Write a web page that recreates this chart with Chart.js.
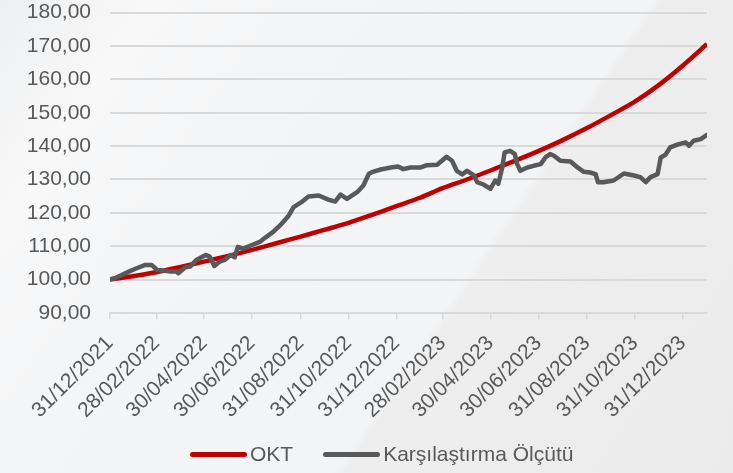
<!DOCTYPE html>
<html>
<head>
<meta charset="utf-8">
<script src="https://cdn.jsdelivr.net/npm/chart.js@4.4.1/dist/chart.umd.min.js"></script>
<style>
    html, body { margin: 0; padding: 0; }
    body {
        width: 733px;
        height: 473px;
        overflow: hidden;
        background: linear-gradient(124deg, #eeeff0 0%, #f8f8f9 14%, #f4f5f6 30%, #f3f4f5 62%, #eeeeef 63%, #ebebec 100%);
        font-family: Arial, "Liberation Sans", sans-serif;
    }
    #wrap { position: relative; width: 733px; height: 473px; overflow: hidden; }
    #chart-box { position: absolute; left: 0; top: -19px; width: 733px; height: 492px; }
    #legend {
        position: absolute;
        left: 190px;
        top: 442px;
        display: flex;
        align-items: center;
        font-size: 21px;
        color: #595959;
        white-space: nowrap;
    }
    #legend .item { display: flex; align-items: center; margin-right: 30px; }
    #legend .swatch { width: 57px; height: 5px; border-radius: 3px; margin-right: 3px; }
</style>
</head>
<body>
<div id="wrap">
    <div id="chart-box"><canvas id="perf-chart"></canvas></div>
    <div id="legend"></div>
</div>
<script>
// OKT (red line) - read at month ends
const oktDates = ['2021-12-31', '2022-01-31', '2022-02-28', '2022-03-31', '2022-04-30', '2022-05-31',
    '2022-06-30', '2022-07-31', '2022-08-31', '2022-09-30', '2022-10-31', '2022-11-30', '2022-12-31',
    '2023-01-31', '2023-02-28', '2023-03-31', '2023-04-30', '2023-05-31', '2023-06-30', '2023-07-31',
    '2023-08-31', '2023-09-30', '2023-10-31', '2023-11-30', '2023-12-31', '2024-01-31'];
const oktValues = [100.0, 101.1, 102.2, 103.8, 105.4, 107.1, 108.9, 110.9, 112.9, 114.9, 117.0, 119.4, 122.0,
    124.6, 127.4, 130.0, 132.7, 135.6, 138.5, 141.8, 145.4, 149.2, 153.3, 158.2, 164.1, 170.6];

// Karşılaştırma Ölçütü (grey line)
const benchDates = ['2021-12-31', '2022-01-06', '2022-01-15', '2022-01-24', '2022-02-03', '2022-02-14',
    '2022-02-22', '2022-03-01', '2022-03-09', '2022-03-18', '2022-03-26', '2022-03-28', '2022-04-06',
    '2022-04-12', '2022-04-20', '2022-05-02', '2022-05-07', '2022-05-13', '2022-05-20', '2022-05-26',
    '2022-06-03', '2022-06-08', '2022-06-12', '2022-06-19', '2022-06-29', '2022-07-10', '2022-07-17',
    '2022-07-27', '2022-08-05', '2022-08-15', '2022-08-22', '2022-09-01', '2022-09-10', '2022-09-23',
    '2022-10-06', '2022-10-14', '2022-10-21', '2022-10-29', '2022-11-11', '2022-11-19', '2022-11-26',
    '2022-12-01', '2022-12-11', '2022-12-24', '2023-01-02', '2023-01-09', '2023-01-18', '2023-01-31',
    '2023-02-08', '2023-02-21', '2023-02-27', '2023-03-05', '2023-03-12', '2023-03-18', '2023-03-25',
    '2023-03-31', '2023-04-09', '2023-04-13', '2023-04-21', '2023-04-30', '2023-05-06', '2023-05-10',
    '2023-05-15', '2023-05-18', '2023-05-25', '2023-05-31', '2023-06-03', '2023-06-07', '2023-06-16',
    '2023-06-24', '2023-07-03', '2023-07-09', '2023-07-15', '2023-07-20', '2023-07-28', '2023-08-10',
    '2023-08-19', '2023-08-27', '2023-09-04', '2023-09-11', '2023-09-14', '2023-09-21', '2023-10-04',
    '2023-10-17', '2023-10-30', '2023-11-07', '2023-11-14', '2023-11-20', '2023-11-29', '2023-12-03',
    '2023-12-09', '2023-12-15', '2023-12-26', '2024-01-04', '2024-01-08', '2024-01-14', '2024-01-23',
    '2024-01-31'];
const benchValues = [100.1, 100.4, 101.4, 102.4, 103.4, 104.4,
    104.4, 102.9, 102.7, 102.4, 102.4, 101.9, 103.7,
    103.9, 105.9, 107.4, 106.9, 104.1, 105.4, 105.9,
    107.4, 106.7, 109.8, 109.3, 110.3, 111.3, 112.6,
    114.3, 116.3, 118.9, 121.7, 123.2, 124.9, 125.2,
    123.9, 123.4, 125.5, 124.2, 126.2, 128.2, 131.7,
    132.3, 133.0, 133.6, 133.9, 133.1, 133.6, 133.6,
    134.3, 134.4, 135.6, 136.8, 135.6, 132.6, 131.5,
    132.6, 131.2, 129.2, 128.5, 127.2, 129.7, 128.7,
    133.6, 138.1, 138.6, 137.6, 134.6, 132.6, 133.6,
    134.1, 134.6, 136.6, 137.6, 137.1, 135.6, 135.4,
    133.6, 132.3, 132.1, 131.6, 129.2, 129.2, 129.7,
    131.8, 131.2, 130.7, 129.2, 130.7, 131.6, 136.6,
    137.4, 139.6, 140.6, 141.1, 140.1, 141.6, 142.1,
    143.4];

const tickLabels = ['31/12/2021', '28/02/2022', '30/04/2022', '30/06/2022', '31/08/2022', '31/10/2022',
    '31/12/2022', '28/02/2023', '30/04/2023', '30/06/2023', '31/08/2023', '31/10/2023', '31/12/2023'];
const axisEnd = '2024-01-31';

// days since the first date, so the x axis is spaced by calendar days
const startMs = Date.UTC(2021, 11, 31);
function isoToDay(s) {
    return Math.round((Date.parse(s) - startMs) / 86400000);
}
function labelToDay(s) {
    const [d, m, y] = s.split('/').map(Number);
    return Math.round((Date.UTC(y, m - 1, d) - startMs) / 86400000);
}
const tickDays = tickLabels.map(labelToDay);

const oktPoints = oktDates.map((d, i) => ({ x: isoToDay(d), y: oktValues[i] }));
const benchPoints = benchDates.map((d, i) => ({ x: isoToDay(d), y: benchValues[i] }));

const textColor = '#595959';
const gridColor = '#d9d9d9';

const datasets = [{
    label: 'OKT',
    data: oktPoints,
    borderColor: '#c00000',
    backgroundColor: '#c00000',
    borderWidth: 4.5,
    pointRadius: 0,
    tension: 0.3,
    order: 2
}, {
    label: 'Karşılaştırma Ölçütü',
    data: benchPoints,
    borderColor: '#595959',
    backgroundColor: '#595959',
    borderWidth: 4.5,
    pointRadius: 0,
    tension: 0,
    borderJoinStyle: 'round',
    borderCapStyle: 'round',
    order: 1
}];

const ctx = document.getElementById('perf-chart');
new Chart(ctx, {
    type: 'line',
    data: { datasets: datasets },
    options: {
        responsive: true,
        maintainAspectRatio: false,
        animation: false,
        layout: { padding: { left: 0, right: 26, top: 0, bottom: 0 } },
        plugins: {
            legend: { display: false },
            tooltip: { enabled: false }
        },
        scales: {
            x: {
                type: 'linear',
                min: 0,
                max: isoToDay(axisEnd),
                afterBuildTicks: axis => {
                    axis.ticks = tickDays.map(v => ({ value: v }));
                },
                afterFit: axis => { axis.height = 160; },
                grid: {
                    drawOnChartArea: false,
                    color: gridColor,
                    lineWidth: 1.5,
                    tickLength: 6
                },
                border: { display: true, color: gridColor, width: 2 },
                ticks: {
                    autoSkip: false,
                    minRotation: 45,
                    maxRotation: 45,
                    padding: 12,
                    color: textColor,
                    font: { family: 'Arial, "Liberation Sans", sans-serif', size: 21 },
                    callback: value => tickLabels[tickDays.indexOf(value)]
                }
            },
            y: {
                min: 90,
                max: 180,
                afterFit: axis => { axis.width = 110; },
                grid: { color: gridColor, lineWidth: 2, drawTicks: false },
                border: { display: false },
                ticks: {
                    stepSize: 10,
                    padding: 19,
                    color: textColor,
                    font: { family: 'Arial, "Liberation Sans", sans-serif', size: 21 },
                    callback: value => value.toFixed(2).replace('.', ',')
                }
            }
        }
    }
});

// legend drawn as html under the chart
const legendEl = document.getElementById('legend');
datasets.forEach(ds => {
    const item = document.createElement('div');
    item.className = 'item';
    const swatch = document.createElement('span');
    swatch.className = 'swatch';
    swatch.style.background = ds.borderColor;
    const text = document.createElement('span');
    text.textContent = ds.label;
    item.appendChild(swatch);
    item.appendChild(text);
    legendEl.appendChild(item);
});
</script>
</body>
</html>
